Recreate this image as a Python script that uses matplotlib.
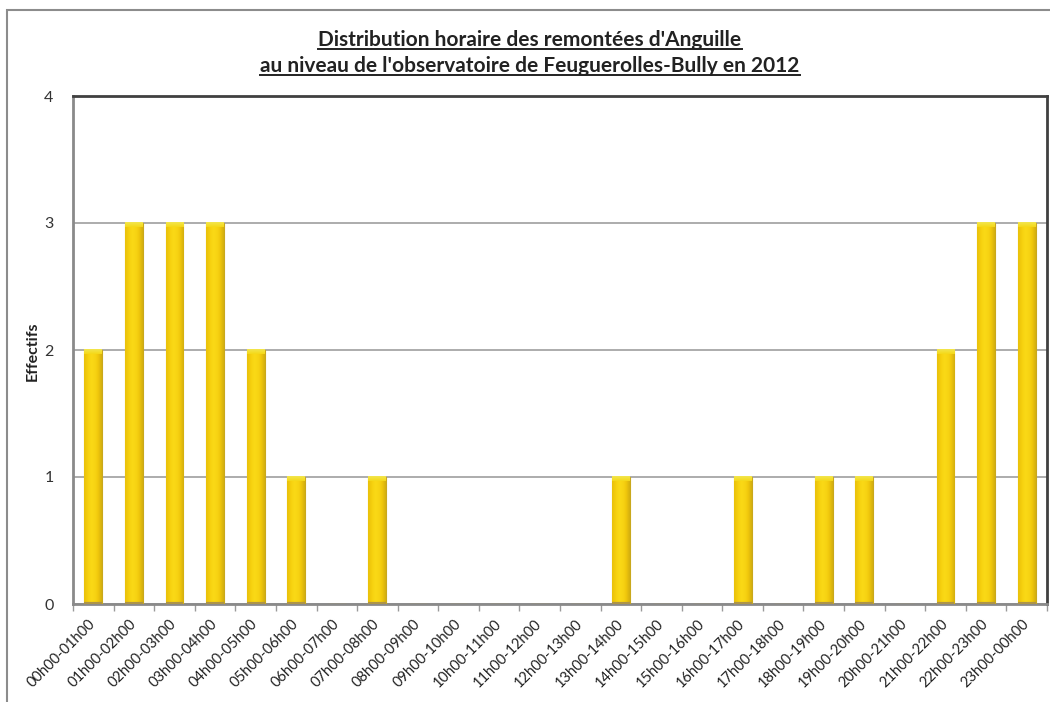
import numpy as np
import matplotlib
matplotlib.use('Agg')
import matplotlib.pyplot as plt
from matplotlib.colors import LinearSegmentedColormap
from matplotlib.patches import Rectangle
from matplotlib.lines import Line2D

categories = ["00h00-01h00", "01h00-02h00", "02h00-03h00", "03h00-04h00",
              "04h00-05h00", "05h00-06h00", "06h00-07h00", "07h00-08h00",
              "08h00-09h00", "09h00-10h00", "10h00-11h00", "11h00-12h00",
              "12h00-13h00", "13h00-14h00", "14h00-15h00", "15h00-16h00",
              "16h00-17h00", "17h00-18h00", "18h00-19h00", "19h00-20h00",
              "20h00-21h00", "21h00-22h00", "22h00-23h00", "23h00-00h00"]
counts = [2, 3, 3, 3, 2, 1, 0, 1, 0, 0, 0, 0, 0, 1, 0, 0, 1, 0, 1, 1, 0, 2, 3, 3]
yticks = [0, 1, 2, 3, 4]
title_lines = ["Distribution horaire des remontées d'Anguille",
               "au niveau de l'observatoire de Feuguerolles-Bully en 2012"]
ylabel = "Effectifs"

plt.rcParams['font.family'] = ['Lato', 'DejaVu Sans']

W, H = 1050, 702
fig = plt.figure(figsize=(W / 100, H / 100), dpi=100)
fig.patch.set_facecolor('white')

# outer chart border
fig.patches.append(Rectangle((7 / W, -0.1), 2, (H - 10) / H + 0.1, transform=fig.transFigure,
                             fill=False, edgecolor='#8c8c8c', linewidth=1.5))

ax = fig.add_axes([73 / W, 1 - 604 / H, (1047 - 73) / W, (604 - 96) / H])
x = np.arange(len(categories))
bw = 0.44
bars = ax.bar(x, counts, width=bw, color='#F7D010', edgecolor='#C9A81C', linewidth=0.8, zorder=3)

cmap = LinearSegmentedColormap.from_list('gold', ['#E9C00A', '#F5CF0E', '#FAD916', '#F8D514', '#F0C70C', '#D2AE10'])
grad = np.linspace(0, 1, 64).reshape(1, -1)
for b, v in zip(bars, counts):
    if v <= 0:
        continue
    x0 = b.get_x()
    im = ax.imshow(grad, extent=[x0, x0 + b.get_width(), 0, v], aspect='auto', cmap=cmap,
                   zorder=3.5, interpolation='bicubic')
    im.set_clip_path(b)
    # top highlight bevel
    ax.imshow(np.linspace(0, 1, 32).reshape(-1, 1), extent=[x0, x0 + b.get_width(), v - 0.035, v],
              aspect='auto', cmap=LinearSegmentedColormap.from_list('hl', ['#F5D818', '#F2E64E']),
              zorder=3.6, origin='lower')
    ax.plot([x0, x0 + b.get_width()], [0, 0], color='#AD9448', linewidth=3, zorder=3.7, solid_capstyle='butt')

ax.set_xlim(-0.5, len(categories) - 0.5)
ax.set_ylim(0, 4)

ax.set_yticks(yticks)
ax.set_yticklabels([str(t) for t in yticks])
ax.tick_params(axis='y', length=0, pad=14, labelsize=11.5, labelcolor='#333333')
ax.yaxis.grid(True, color='#A6A6A6', linewidth=1.3, zorder=1)
ax.set_axisbelow(True)

ax.set_xticks(x)
ax.set_xticklabels(categories, rotation=45, ha='right', va='center', rotation_mode='anchor')
ax.tick_params(axis='x', which='major', length=0, pad=13, labelsize=10.5, labelcolor='#222222')
ax.set_xticks(np.arange(-0.5, len(categories) + 0.5, 1), minor=True)
ax.tick_params(axis='x', which='minor', length=5, color='#9a9a9a', width=1)

for side in ['left', 'bottom']:
    ax.spines[side].set_color('#8a8a8a')
    ax.spines[side].set_linewidth(2)
for side in ['top', 'right']:
    ax.spines[side].set_color('#404040')
    ax.spines[side].set_linewidth(2)

fig.text(33 / W, 1 - 351 / H, ylabel, rotation=90, ha='center', va='center',
         fontsize=11.5, fontweight='bold', color='#222222')

title_y = [1 - 40 / H, 1 - 66 / H]
texts = []
for line, ty in zip(title_lines, title_y):
    t = fig.text(530 / W, ty, line, ha='center', va='center', fontsize=15,
                 fontweight='bold', color='#222222')
    texts.append(t)

fig.canvas.draw()
r = fig.canvas.get_renderer()
for t in texts:
    bb = t.get_window_extent(renderer=r)
    yline = (bb.y0 + 1) / H
    fig.lines.append(Line2D([bb.x0 / W, bb.x1 / W], [yline, yline], transform=fig.transFigure,
                            color='#222222', linewidth=1.4))

fig.savefig('out.png', dpi=100)
